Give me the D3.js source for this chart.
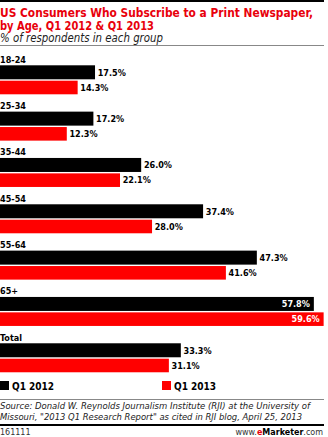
<!DOCTYPE html>
<html><head><meta charset="utf-8">
<script src="https://cdn.jsdelivr.net/npm/d3@7"></script>
<style>html,body{margin:0;padding:0;background:#fff;}svg{display:block;}</style>
</head><body>
<script>
const categories = ["18-24","25-34","35-44","45-54","55-64","65+","Total"];
const q1_2012 = [17.5,17.2,26.0,37.4,47.3,57.8,33.3];
const q1_2013 = [14.3,12.3,22.1,28.0,41.6,59.6,31.1];
const seriesNames = ["Q1 2012","Q1 2013"];
const colors = ["#000000","#ff0000"];

const W = 328, H = 437;
const svg = d3.select("body").append("svg").attr("width", W).attr("height", H);
const F = "'DejaVu Sans', Verdana, sans-serif";
const FC = "'DejaVu Sans Condensed', 'DejaVu Sans', sans-serif";

// header
svg.append("rect").attr("x",0).attr("y",0).attr("width",324).attr("height",2).attr("fill","#000");
svg.append("text").attr("x",0).attr("y",16.5).attr("font-family",FC).attr("font-weight","bold")
  .attr("font-size",12.5).attr("fill","#e8000b").attr("textLength",313).attr("lengthAdjust","spacingAndGlyphs")
  .text("US Consumers Who Subscribe to a Print Newspaper,");
svg.append("text").attr("x",0).attr("y",29.5).attr("font-family",FC).attr("font-weight","bold")
  .attr("font-size",12.5).attr("fill","#e8000b").attr("textLength",154).attr("lengthAdjust","spacingAndGlyphs")
  .text("by Age, Q1 2012 & Q1 2013");
svg.append("text").attr("x",0).attr("y",42).attr("font-family",F).attr("font-style","italic")
  .attr("font-size",11.5).attr("fill","#222").attr("textLength",163).attr("lengthAdjust","spacingAndGlyphs")
  .text("% of respondents in each group");
svg.append("rect").attr("x",0).attr("y",45).attr("width",324).attr("height",1).attr("fill","#888");

// scales
const x = d3.scaleLinear().domain([0, 60]).range([0, 325.8]);
const y = d3.scaleBand().domain(categories).range([56, 56 + 46.33 * categories.length]).paddingInner(0).paddingOuter(0);

const g = svg.append("g");
const groups = g.selectAll("g.grp").data(categories).join("g").attr("class","grp")
  .attr("transform", d => `translate(0,${y(d)})`);

groups.append("text").attr("x",0).attr("y",6.8).attr("font-family",FC).attr("font-weight","bold")
  .attr("font-size",9).attr("fill","#000").text(d => d);

const barOff = [9.3, 24.7], barH = [14, 13.6];
[q1_2012, q1_2013].forEach((vals, s) => {
  groups.append("rect").attr("x", x(0)).attr("y", barOff[s])
    .attr("width", (d,i) => x(vals[i]) - x(0)).attr("height", barH[s]).attr("fill", colors[s]);
  groups.append("text")
    .attr("font-family",FC).attr("font-weight","bold").attr("font-size",9)
    .attr("y", barOff[s] + barH[s]/2 + 3.3)
    .each(function(d,i){
      const v = vals[i];
      const inside = x(v) > 290;
      d3.select(this).attr("x", inside ? x(v) - 4 : x(v) + 2.7)
        .attr("text-anchor", inside ? "end" : "start")
        .attr("fill", inside ? "#fff" : "#000")
        .text(v.toFixed(1) + "%");
    });
});

// legend
const legX = [0, 162];
seriesNames.forEach((n, s) => {
  svg.append("rect").attr("x", legX[s]).attr("y", 381).attr("width", 9).attr("height", 9).attr("fill", colors[s]);
  svg.append("text").attr("x", legX[s] + 12).attr("y", 389.5).attr("font-family",FC).attr("font-weight","bold")
    .attr("font-size",10).attr("fill","#000").text(n);
});

// footer
svg.append("rect").attr("x",0).attr("y",399).attr("width",324).attr("height",1).attr("fill","#888");
svg.append("text").attr("x",0).attr("y",409).attr("font-family",F).attr("font-style","italic")
  .attr("font-size",9).attr("fill","#222").attr("textLength",310).attr("lengthAdjust","spacingAndGlyphs")
  .text("Source: Donald W. Reynolds Journalism Institute (RJI) at the University of");
svg.append("text").attr("x",0).attr("y",420).attr("font-family",F).attr("font-style","italic")
  .attr("font-size",9).attr("fill","#222").attr("textLength",302).attr("lengthAdjust","spacingAndGlyphs")
  .text("Missouri, \"2013 Q1 Research Report\" as cited in RJI blog, April 25, 2013");
svg.append("rect").attr("x",0).attr("y",424).attr("width",324).attr("height",2).attr("fill","#000");
svg.append("text").attr("x",0).attr("y",434.5).attr("font-family",F).attr("font-size",8).attr("fill","#333").text("161111");
const ft = svg.append("text").attr("x",323).attr("y",434.5).attr("text-anchor","end").attr("font-family",F).attr("font-size",8).attr("fill","#333");
ft.append("tspan").text("www.");
ft.append("tspan").attr("fill","#e8000b").attr("font-weight","bold").text("e");
ft.append("tspan").attr("font-weight","bold").attr("fill","#000").text("Marketer");
ft.append("tspan").text(".com");
</script>
</body></html>
